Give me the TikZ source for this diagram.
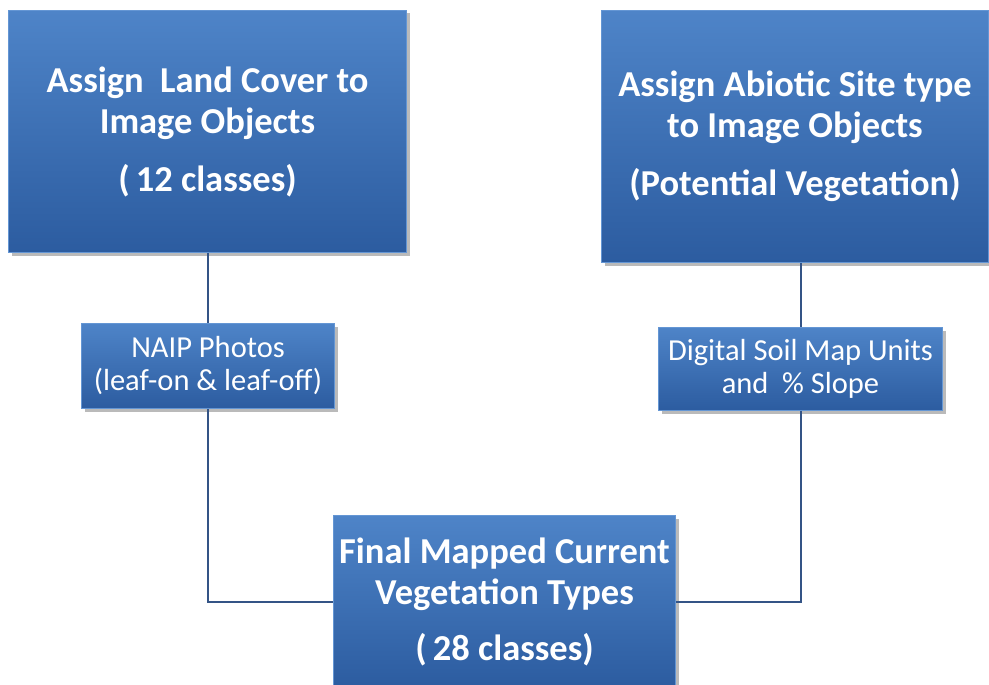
\documentclass[tikz,border=0pt]{standalone}
\usepackage{fontspec}
\setmainfont{Carlito}
\usetikzlibrary{shadows}
\definecolor{boxtop}{RGB}{78,132,200}
\definecolor{boxbot}{RGB}{44,92,160}
\definecolor{boxedge}{RGB}{100,150,212}
\definecolor{linkcol}{RGB}{52,84,134}
\tikzset{
  bigbox/.style={rectangle, anchor=north west, inner sep=0pt, top color=boxtop, bottom color=boxbot,
    draw=boxedge, line width=1pt, text=white, align=center,
    font=\bfseries\fontsize{36.5}{41}\selectfont,
    drop shadow={shadow xshift=3pt, shadow yshift=-3pt, opacity=0.45, fill=black!60}},
  smallbox/.style={bigbox, font=\fontsize{30.5}{33}\selectfont},
  link/.style={draw=linkcol, line width=2pt}
}
\begin{document}
\begin{tikzpicture}[x=1pt,y=-1pt]
\useasboundingbox (0,0) rectangle (989,685);
\fill[white] (0,0) rectangle (989,685);
\node[bigbox, minimum width=398pt, minimum height=242pt] (b1) at (8,10)
  {Assign\ \ Land Cover to\\Image Objects\\[17pt](\,12 classes)};
\node[bigbox, minimum width=387pt, minimum height=252pt] (b2) at (601,10)
  {Assign Abiotic Site type\\to Image Objects\\[17pt](Potential Vegetation)};
\node[smallbox, minimum width=253pt, minimum height=85pt] (naip) at (81,323)
  {NAIP Photos\\(leaf-on \& leaf-off)};
\node[smallbox, minimum width=284pt, minimum height=83pt] (soil) at (658,327)
  {Digital Soil Map Units\\and\ \ \% Slope};
\node[bigbox, minimum width=342pt, minimum height=172pt] (fin) at (333,515)
  {Final Mapped Current\\Vegetation Types\\[15pt](\,28 classes)};
\draw[link] (b1.south -| naip.north) -- (naip.north);
\draw[link] (b2.south -| soil.north) -- (soil.north);
\draw[link] (naip.south) |- (fin.west);
\draw[link] (soil.south) |- (fin.east);
\end{tikzpicture}
\end{document}
